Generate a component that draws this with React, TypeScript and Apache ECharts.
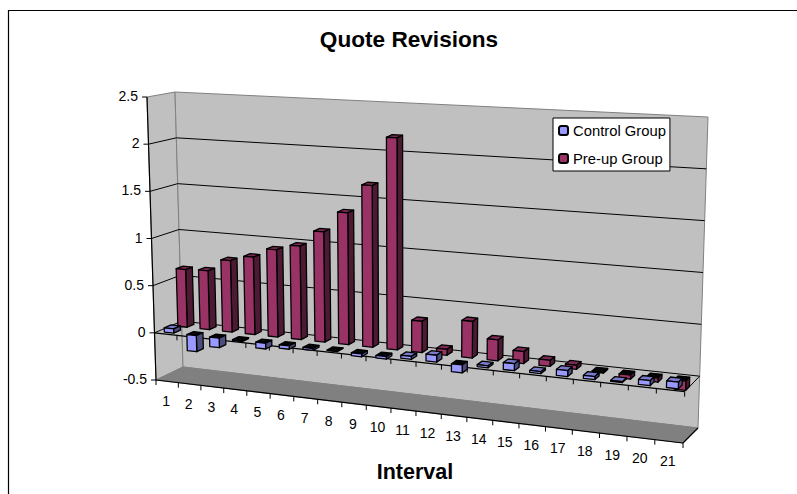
import React, { useEffect, useRef } from "react";
import * as echarts from "echarts";

const categories = ["1","2","3","4","5","6","7","8","9","10","11","12","13","14","15","16","17","18","19","20","21"];
const controlGroup = [0.045,-0.17,-0.1,-0.01,-0.06,-0.035,-0.02,-0.005,-0.03,-0.025,0.03,0.07,-0.08,0.02,0.07,0.02,0.06,0.03,0.01,0.05,0.065];
const preUpGroup = [0.62,0.63,0.76,0.82,0.92,0.98,1.15,1.37,1.67,2.18,0.32,0.06,0.37,0.21,0.12,0.06,0.04,-0.01,-0.04,-0.04,-0.09];
const valueTicks = [-0.5,0,0.5,1,1.5,2,2.5];
const valueLabels = ["-0.5","0","0.5","1","1.5","2","2.5"];

const FONT = '"Liberation Sans", Arial, sans-serif';
// Box corners of the 3D view at the front (depth 0) and the back (depth 1)
const FRONT = { tl: [147, 97], bl: [156, 380], tr: [693, 135], br: [683, 443] };
const BACK = { tl: [175, 92], bl: [183, 367], tr: [708, 117], br: [698, 428] };
const PERSP = 0.13;
const BAR_LEFT = 0.29;
const BAR_RIGHT = 0.71;
const GRID = { left: 100, top: 100, width: 500, height: 300 };

function project(px: number, py: number, z: number) {
  const u0 = (px - GRID.left) / GRID.width;
  const v = (py - GRID.top) / GRID.height;
  const s = u0 / (1 + PERSP * (1 - u0));
  const mix = (a: number[], b: number[], t: number) => [a[0] + (b[0] - a[0]) * t, a[1] + (b[1] - a[1]) * t];
  const plane = (c: typeof FRONT) => mix(mix(c.tl, c.tr, s), mix(c.bl, c.br, s), v);
  return mix(plane(FRONT), plane(BACK), z);
}

const poly = (points: number[][], fill: string, stroke = "#000", lineWidth = 1.3) => ({
  type: "polygon",
  shape: { points },
  style: { fill, stroke, lineWidth, lineJoin: "round" },
});
const seg = (a: number[], b: number[], stroke: string, lineWidth = 1) => ({
  type: "line",
  shape: { x1: a[0], y1: a[1], x2: b[0], y2: b[1] },
  style: { stroke, lineWidth },
});

function barRenderer(z0: number, z1: number, front: string, side: string, top: string) {
  return (_p: any, api: any) => {
    const i = api.value(0);
    const val = api.value(1);
    const base = api.coord([i + BAR_LEFT, 0]);
    const head = api.coord([i + BAR_LEFT, val]);
    const right = api.coord([i + BAR_RIGHT, 0]);
    const x0 = base[0], x1 = right[0], yb = base[1], yt = head[1];
    const upper = Math.min(yb, yt), lower = Math.max(yb, yt);
    const A = project;
    return {
      type: "group",
      children: [
        poly([A(x0, upper, z0), A(x1, upper, z0), A(x1, upper, z1), A(x0, upper, z1)], val < 0 ? "#050508" : top),
        poly([A(x1, upper, z0), A(x1, upper, z1), A(x1, lower, z1), A(x1, lower, z0)], side),
        poly([A(x0, upper, z0), A(x1, upper, z0), A(x1, lower, z0), A(x0, lower, z0)], front),
      ],
    };
  };
}

function buildOption() {
  return {
    animation: false,
    backgroundColor: "#fff",
    title: {
      text: "Quote Revisions",
      left: 404, top: 23, textAlign: "center",
      textStyle: { fontFamily: FONT, fontSize: 22.6, fontWeight: "bold", color: "#000" },
    },
    legend: {
      data: ["Control Group", "Pre-up Group"],
      orient: "vertical", left: 553, top: 118,
      backgroundColor: "#fff", borderColor: "#000", borderWidth: 1,
      padding: [5, 4, 5, 5], itemGap: 13, itemWidth: 9, itemHeight: 9,
      textStyle: { fontFamily: FONT, fontSize: 14.8, color: "#000" },
      z: 20,
    },
    grid: GRID,
    xAxis: { type: "value", min: 0, max: categories.length, show: false },
    yAxis: { type: "value", min: -0.5, max: 2.5, interval: 0.5, show: false },
    graphic: [{
      type: "polyline",
      shape: { points: [[8.5, 494], [8.5, 10.5], [797, 10.5]] },
      style: { stroke: "#000", lineWidth: 1.2, fill: "none" },
    }],
    series: [
      {
        type: "custom", name: "walls", coordinateSystem: "cartesian2d", silent: true, z: 1,
        data: [[0, -0.5]],
        renderItem: (_p: any, api: any) => {
          const n = categories.length;
          const l = api.coord([0, -0.5]), r = api.coord([n, 2.5]);
          const L = l[0], B = l[1], R = r[0], T = r[1];
          const wall = "#c0c0c0", edge = "#808080";
          return {
            type: "group",
            children: [
              poly([project(L, T, 0), project(L, T, 1), project(L, B, 1), project(L, B, 0)], wall, edge, 1),
              poly([project(L, T, 1), project(R, T, 1), project(R, B, 1), project(L, B, 1)], wall, edge, 1),
              poly([project(L, B, 0), project(L, B, 1), project(R, B, 1), project(R, B, 0)], "#808080", "#808080", 1),
              seg(project(R, B, 0), project(R, B, 1), "#000", 1.2),
            ],
          };
        },
      },
      {
        type: "custom", name: "grid", coordinateSystem: "cartesian2d", silent: true, z: 1,
        data: valueTicks.map((v, i) => [i, v]),
        renderItem: (_p: any, api: any) => {
          const idx = api.value(0), v = api.value(1);
          const n = categories.length;
          const a = api.coord([0, v]), b = api.coord([n, v]);
          const front = project(a[0], a[1], 0);
          const back = project(a[0], a[1], 1);
          const right = project(b[0], b[1], 1);
          const children: any[] = [
            seg([front[0] - 5, front[1]], front, "#000", 1),
            {
              type: "text",
              style: {
                text: valueLabels[idx], x: front[0] - 9, y: front[1] - 1,
                align: "right", verticalAlign: "middle",
                font: `14px ${FONT}`, fill: "#000",
              },
            },
          ];
          if (idx > 0 && idx < valueTicks.length - 1) {
            children.push(seg(front, back, "#000", 1), seg(back, right, "#000", 1));
          }
          if (idx === 0) {
            const t = project(a[0], api.coord([0, 2.5])[1], 0);
            children.push(seg(t, front, "#000", 1.2));
          }
          if (v === 0) {
            const fr = project(b[0], b[1], 0);
            children.push(seg(front, fr, "#000", 1.2), seg(fr, right, "#000", 1));
          }
          return { type: "group", children };
        },
      },
      {
        type: "custom", name: "ticks", coordinateSystem: "cartesian2d", silent: true, z: 1,
        data: [...categories.map((_, i) => [i]), [categories.length]],
        renderItem: (_p: any, api: any) => {
          const i = api.value(0);
          const n = categories.length;
          const bottom = api.coord([i, -0.5]);
          const zero = api.coord([i, 0]);
          const pb = project(bottom[0], bottom[1], 0);
          const pz = project(zero[0], zero[1], 0);
          const children: any[] = [
            seg(pb, [pb[0], pb[1] + 5], "#000", 1),
            seg(pz, [pz[0], pz[1] + 5], "#000", 1),
          ];
          if (i < n) {
            const c = api.coord([i + 0.5, -0.5]);
            const pc = project(c[0], c[1], 0);
            children.push({
              type: "text",
              style: {
                text: categories[i], x: pc[0] - 1, y: pc[1] + 20,
                align: "center", verticalAlign: "middle",
                font: `14px ${FONT}`, fill: "#000",
              },
            });
          } else {
            children.push({
              type: "text",
              style: {
                text: "Interval", x: 415, y: 472, align: "center", verticalAlign: "middle",
                font: `bold 21.5px ${FONT}`, fill: "#000",
              },
            });
          }
          if (i === 0) children.push(seg(pb, project(api.coord([n, -0.5])[0], bottom[1], 0), "#000", 1.2));
          return { type: "group", children };
        },
      },
      {
        type: "custom", name: "Pre-up Group", coordinateSystem: "cartesian2d", z: 2,
        itemStyle: { color: "#993366", borderColor: "#000", borderWidth: 1 },
        data: preUpGroup.map((v, i) => [i, v]),
        renderItem: barRenderer(0.625, 0.875, "#993366", "#4d1a33", "#7a2952"),
      },
      {
        type: "custom", name: "Control Group", coordinateSystem: "cartesian2d", z: 3,
        itemStyle: { color: "#9999ff", borderColor: "#000", borderWidth: 1 },
        data: controlGroup.map((v, i) => [i, v]),
        renderItem: barRenderer(0.125, 0.375, "#9999ff", "#4d4d80", "#7a7acc"),
      },
    ],
  };
}

export default function App() {
  const ref = useRef<HTMLDivElement>(null);
  useEffect(() => {
    const chart = echarts.init(ref.current!, undefined, { renderer: "svg" });
    chart.setOption(buildOption() as any);
    return () => chart.dispose();
  }, []);
  return <div ref={ref} style={{ position: "fixed", left: 0, top: 0, width: 797, height: 494 }} />;
}
